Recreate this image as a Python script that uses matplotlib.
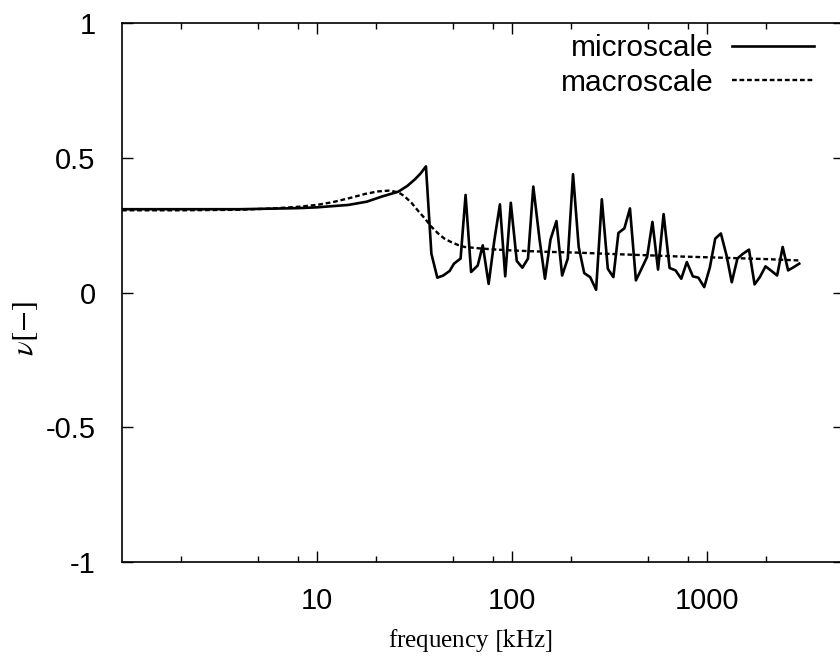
import matplotlib
matplotlib.use("Agg")
import matplotlib.pyplot as plt
from matplotlib.ticker import FixedLocator, FixedFormatter, NullFormatter

plt.rcParams.update(
    {
        "font.family": "sans-serif",
        "font.sans-serif": ["Liberation Sans", "DejaVu Sans"],
        "mathtext.fontset": "stix",
        "font.size": 21,
    }
)

# microscale response (solid)
freq_micro = [
    1, 2, 4, 8, 10, 14.5, 18, 21.5, 26.1, 29, 31.8, 34, 36.2, 38.6, 41.4, 44.4,
    47.9, 50.4, 54.5, 57.8, 61.7, 66.7, 70.8, 75.9, 81.2, 86.7, 92.3, 98.6,
    105.8, 113, 120.8, 128.6, 138.6, 147.6, 157.6, 169, 180.8, 193.2, 205.6,
    219.8, 234.6, 251.7, 270, 288.8, 310, 331, 351.4, 377, 402.6, 432, 461.5,
    493, 525, 561, 599, 643, 690, 738, 788, 846, 903, 968, 1035, 1102, 1178,
    1259, 1340, 1432, 1530, 1642, 1754, 1866, 1996, 2142, 2289, 2444, 2606,
    2781, 2972,
]
nu_micro = [
    0.309, 0.309, 0.309, 0.313, 0.316, 0.325, 0.337, 0.356, 0.374, 0.395,
    0.420, 0.442, 0.468, 0.144, 0.055, 0.063, 0.080, 0.107, 0.126, 0.362,
    0.076, 0.100, 0.175, 0.032, 0.194, 0.327, 0.060, 0.333, 0.117, 0.092,
    0.126, 0.393, 0.194, 0.051, 0.197, 0.265, 0.063, 0.126, 0.439, 0.169,
    0.072, 0.057, 0.010, 0.346, 0.088, 0.057, 0.221, 0.238, 0.312, 0.045,
    0.088, 0.132, 0.262, 0.085, 0.291, 0.091, 0.082, 0.051, 0.113, 0.060,
    0.055, 0.020, 0.094, 0.200, 0.219, 0.138, 0.038, 0.126, 0.144, 0.159,
    0.030, 0.057, 0.097, 0.080, 0.063, 0.169, 0.082, 0.094, 0.107,
]

# macroscale response (dashed)
freq_macro = [
    1, 2, 4, 6, 8, 10, 12, 15, 17.7, 20.5, 23.3, 26.1, 28, 30.5, 33, 35.7,
    38.5, 41.8, 45, 48.8, 53, 57.1, 70, 84.4, 100, 150, 215, 350, 500, 695,
    1200, 2000, 2944,
]
nu_macro = [
    0.305, 0.305, 0.307, 0.312, 0.318, 0.325, 0.335, 0.352, 0.366, 0.375,
    0.378, 0.372, 0.358, 0.333, 0.303, 0.275, 0.245, 0.219, 0.200, 0.187,
    0.176, 0.169, 0.163, 0.159, 0.156, 0.151, 0.148, 0.142, 0.138, 0.134,
    0.129, 0.124, 0.119,
]

W, H = 840, 659
left_px, top_px, bottom_px = 122, 23, 562
decade_px = 195
x_max_exp = 3.7
axes_w = x_max_exp * decade_px
axes_h = bottom_px - top_px

fig = plt.figure(figsize=(W / 100, H / 100), dpi=100)
ax = fig.add_axes([left_px / W, (H - bottom_px) / H, axes_w / W, axes_h / H])

ax.plot(freq_micro, nu_micro, color="black", lw=1.9, label="microscale")
ax.plot(freq_macro, nu_macro, color="black", lw=1.7, dashes=(2.0, 1.2), label="macroscale")

ax.set_xscale("log")
ax.set_xlim(1, 10 ** x_max_exp)
ax.set_ylim(-1, 1)

ax.xaxis.set_major_locator(FixedLocator([10, 100, 1000]))
ax.xaxis.set_major_formatter(FixedFormatter(["10", "100", "1000"]))
ax.xaxis.set_minor_locator(FixedLocator([2, 5, 8, 20, 50, 80, 200, 500, 800, 2000, 5000]))
ax.xaxis.set_minor_formatter(NullFormatter())
ax.set_yticks([-1, -0.5, 0, 0.5, 1])
ax.set_yticklabels(["-1", "-0.5", "0", "0.5", "1"])

ax.tick_params(which="both", direction="in", top=True, right=True, width=1.0, color="black")
ax.tick_params(which="major", length=8)
ax.tick_params(which="minor", length=4)
ax.tick_params(axis="x", which="major", pad=18)
ax.tick_params(axis="y", which="major", pad=19)
for s in ax.spines.values():
    s.set_linewidth(1.2)

ax.set_xlabel("frequency $[\\mathrm{kHz}]$", family="Liberation Serif", fontsize=18, va="center")
ax.xaxis.set_label_coords((470 - left_px) / axes_w, (bottom_px - 640) / axes_h)
ax.set_ylabel("$\\nu[-]$", fontsize=22, va="center")
ax.yaxis.set_label_coords((25 - left_px) / axes_w, (bottom_px - 329) / axes_h)

ax.legend(
    loc="upper right",
    bbox_to_anchor=(814 / W, (H - 34) / H),
    bbox_transform=fig.transFigure,
    frameon=False,
    markerfirst=False,
    handlelength=2.75,
    handletextpad=0.62,
    labelspacing=0.22,
    borderaxespad=0,
    borderpad=0,
    fontsize=21.5,
)

fig.savefig("out.png", dpi=100)
